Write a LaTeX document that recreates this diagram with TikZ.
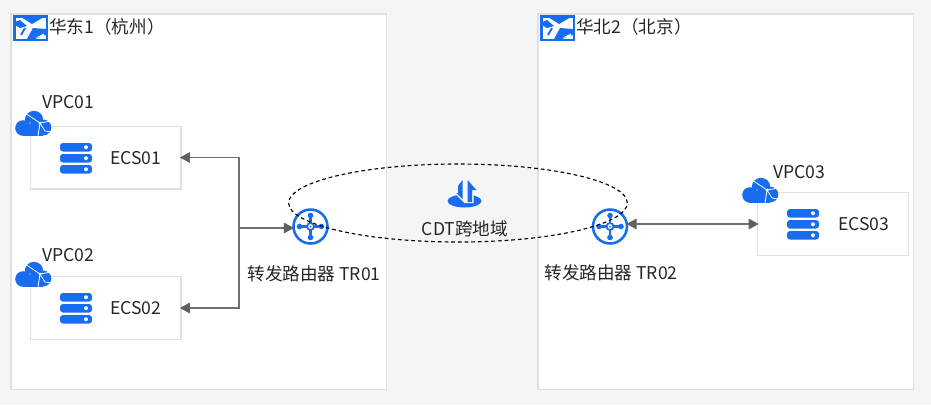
\documentclass[tikz,border=0pt]{standalone}
\usepackage{fontspec}
\setmainfont{Noto Sans CJK SC}
\usepackage{tikz}
\usetikzlibrary{
  shapes.geometric,
  arrows.meta,
  positioning
}
\definecolor{iconblue}{RGB}{24, 108, 240}
\definecolor{edgegray}{RGB}{224, 224, 224}
\definecolor{pagegray}{RGB}{245, 245, 245}
\definecolor{linkgray}{RGB}{112, 112, 112}
\definecolor{tipgray}{RGB}{96, 96, 96}
\definecolor{textdark}{RGB}{38, 38, 38}
\tikzset{
  region/.style={
    draw=edgegray, fill=white, line width=1.2pt, anchor=north west,
    minimum width=281.5pt, minimum height=281.5pt, inner sep=0pt
  },
  ecsbox/.style={
    draw=edgegray, fill=white, line width=1pt,
    minimum width=113pt, minimum height=47pt, inner sep=0pt
  },
  routernode/.style={
    circle, draw=iconblue, fill=white, line width=1.9pt,
    minimum size=25.5pt, inner sep=0pt
  },
  cdtring/.style={
    ellipse, draw=black, dash pattern=on 2.8pt off 2.2pt, line width=0.85pt,
    minimum width=254pt, minimum height=58.5pt, inner sep=0pt
  },
  lab/.style={
    font=\fontsize{13.2}{15}\selectfont, text=textdark, inner sep=0pt
  },
  linkto/.style={
    draw=linkgray, line width=0.8pt, shorten >=-1.2pt,
    -{Triangle[length=7.5pt,width=8pt,color=tipgray]}
  },
  linkboth/.style={
    draw=linkgray, line width=0.8pt, shorten >=-1.2pt, shorten <=-1.2pt,
    {Triangle[length=7.5pt,width=8pt,color=tipgray]}-{Triangle[length=7.5pt,width=8pt,color=tipgray]}
  },
  regionicon/.pic={
    \fill[iconblue] (0,0) rectangle (35,26);
    \fill[white] (2.5,2.5) rectangle (32.5,23.5);
    \fill[iconblue] (8,2) -- (31,2) -- (19,9) -- cycle;
    \fill[iconblue] (2,7) -- (7,5) -- (14,11) -- (7,13) -- (2,10) -- cycle;
    \fill[iconblue] (14,24) -- (20,13) -- (33,14) -- (33,20) -- (22,24) -- cycle;
    \draw[iconblue, line width=1.4pt] (8,20) -- (12,13);
    \fill[white] (23,22.5) -- (31,18.5) -- (31,23) -- cycle;
  },
  cloudicon/.pic={
    \fill[iconblue] (8,17) circle (7.8);
    \fill[iconblue] (19,9) circle (9.2);
    \fill[iconblue] (28.5,16.5) circle (7.8);
    \fill[iconblue] (8,15) rectangle (28,25);
    \draw[white, line width=0.6pt] (10,2) -- (25,12) -- (36,10)
      (25,12) -- (23,25) (25,12) -- (30,20) -- (36,21);
    \fill[white] (25,12) circle (1.5) (15,12) circle (0.7);
  },
  servericon/.pic={
    \foreach \rowy in {0,11,22}{
      \fill[iconblue, rounded corners=2.2pt] (0,\rowy) rectangle (32,\rowy+8.5);
      \fill[white] (26,\rowy+4.25) circle (2);
    }
  },
  crossicon/.pic={
    \draw[iconblue, line width=1.8pt] (-11,0) -- (11,0) (0,-11) -- (0,11);
    \fill[iconblue] (-11,0) circle (2.8);
    \fill[iconblue] (11,0) circle (2.8);
    \fill[iconblue] (0,-11) circle (2.8);
    \fill[iconblue] (0,11) circle (2.8);
    \fill[iconblue] (0,0) circle (4.4);
    \fill[white] (0,0) circle (2.4);
    \fill[iconblue] (0,0) circle (1);
  },
  cdticon/.pic={
    \fill[iconblue] (17,21) ellipse [x radius=17, y radius=6.5];
    \fill[pagegray] (6,12) -- (17,23) -- (26,23) -- (26,12) -- cycle;
    \fill[iconblue] (15,0) -- (15,19) -- (9,13) -- (10.5,13) -- (10.5,6) -- cycle;
    \fill[iconblue] (20,0) -- (29,10) -- (24.5,10) -- (24.5,22) -- (20,22) -- cycle;
  }
}
\begin{document}
\begin{tikzpicture}[x=0.75pt, y=-0.75pt]
\useasboundingbox[fill=pagegray] (0,0) rectangle (931,405);

% ── Regions ──────────────────────────────────────────────────────────────────
\node[region] (east) at (10.2,13.2) {};
\node[region] (north) at (537.2,13.2) {};
\pic at (13,15) {regionicon};
\pic at (540,15) {regionicon};
\node[lab, anchor=west] (easttitle) at (49,27) {华东1（杭州）};
\node[lab, anchor=west] (northtitle) at (576,27) {华北2（北京）};

% ── ECS boxes ────────────────────────────────────────────────────────────────
\node[ecsbox] (ecs01) at (105.5,157.5) {};
\node[ecsbox] (ecs02) at (105.5,308) {};
\node[ecsbox] (ecs03) at (833,224) {};

\pic at (15,111) {cloudicon};
\pic at (15,262) {cloudicon};
\pic at (742,178) {cloudicon};
\node[lab, anchor=west] (vpc01) at (42,102) {VPC01};
\node[lab, anchor=west] (vpc02) at (42,255) {VPC02};
\node[lab, anchor=west] (vpc03) at (773,172) {VPC03};

\pic at (60,143) {servericon};
\pic at (60,293) {servericon};
\pic at (787,209) {servericon};
\node[lab, anchor=west] (ecslab01) at (110,158) {ECS01};
\node[lab, anchor=west] (ecslab02) at (110,308) {ECS02};
\node[lab, anchor=west] (ecslab03) at (838,224) {ECS03};

% ── Routers ──────────────────────────────────────────────────────────────────
\node[routernode] (tr01) at (310.5,226.5) {};
\node[routernode] (tr02) at (610,226.5) {};
\pic at (310.5,226.5) {crossicon};
\pic at (610,226.5) {crossicon};
\node[lab] (trlab01) at (314,274) {转发路由器 TR01};
\node[lab] (trlab02) at (611,273) {转发路由器 TR02};

% ── CDT ──────────────────────────────────────────────────────────────────────
\node[cdtring] (cdt) at (458,203) {};
\pic at (447.5,180) {cdticon};
\node[lab] (cdtlab) at (465,229) {CDT跨地域};

% ── Links ────────────────────────────────────────────────────────────────────
\coordinate (junction) at (239,228);
\draw[linkto] (junction) |- (ecs01.east);
\draw[linkto] (junction) |- (ecs02.east);
\draw[linkto] (junction) -- (tr01.west |- junction);
\draw[linkboth] (tr02.east |- ecs03.west) -- (ecs03.west);

\end{tikzpicture}
\end{document}
